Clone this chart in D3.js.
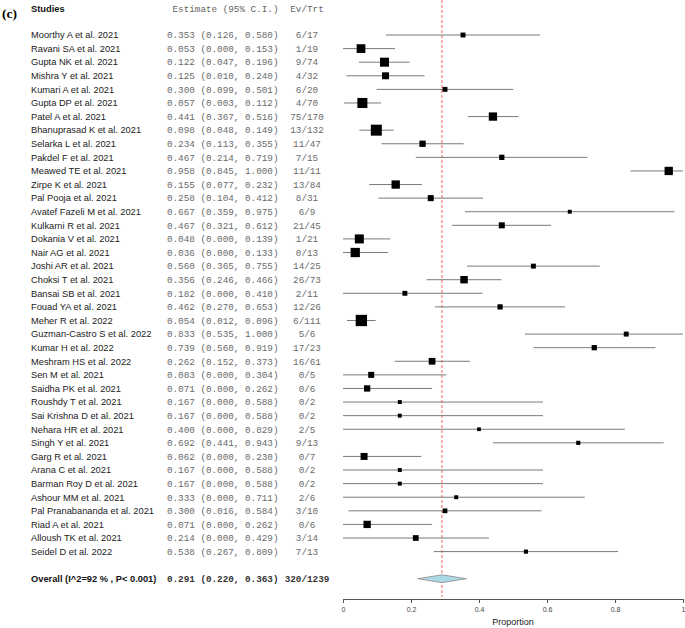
<!DOCTYPE html>
<html><head><meta charset="utf-8">
<script src="https://cdn.jsdelivr.net/npm/d3@7"></script>
<style>html,body{margin:0;padding:0;background:#fff;}</style>
</head><body>
<script>
const studies = ["Moorthy A et al. 2021","Ravani SA et al. 2021","Gupta NK et al. 2021","Mishra Y et al. 2021","Kumari A et al. 2021","Gupta DP et al. 2021","Patel A et al. 2021","Bhanuprasad K et al. 2021","Selarka L et al. 2021","Pakdel F et al. 2021","Meawed TE et al. 2021","Zirpe K et al. 2021","Pal Pooja et al. 2021","Avatef Fazeli M et al. 2021","Kulkarni R et al. 2021","Dokania V et al. 2021","Nair AG et al. 2021","Joshi AR et al. 2021","Choksi T et al. 2021","Bansai SB et al. 2021","Fouad YA et al. 2021","Meher R et al. 2022","Guzman-Castro S et al. 2022","Kumar H et al. 2022","Meshram HS et al. 2022","Sen M et al. 2021","Saidha PK et al. 2021","Roushdy T et al. 2021","Sai Krishna D et al. 2021","Nehara HR et al. 2021","Singh Y et al. 2021","Garg R et al. 2021","Arana C et al. 2021","Barman Roy D et al. 2021","Ashour MM et al. 2021","Pal Pranabananda et al. 2021","Riad A et al. 2021","Alloush TK et al. 2021","Seidel D et al. 2022"];
const estimate = [0.353,0.053,0.122,0.125,0.300,0.057,0.441,0.098,0.234,0.467,0.958,0.155,0.258,0.667,0.467,0.048,0.036,0.560,0.356,0.182,0.462,0.054,0.833,0.739,0.262,0.083,0.071,0.167,0.167,0.400,0.692,0.062,0.167,0.167,0.333,0.300,0.071,0.214,0.538];
const lower = [0.126,0.000,0.047,0.010,0.099,0.003,0.367,0.048,0.113,0.214,0.845,0.077,0.104,0.359,0.321,0.000,0.000,0.365,0.246,0.000,0.270,0.012,0.535,0.560,0.152,0.000,0.000,0.000,0.000,0.000,0.441,0.000,0.000,0.000,0.000,0.016,0.000,0.000,0.267];
const upper = [0.580,0.153,0.196,0.240,0.501,0.112,0.516,0.149,0.355,0.719,1.000,0.232,0.412,0.975,0.612,0.139,0.133,0.755,0.466,0.410,0.653,0.096,1.000,0.919,0.373,0.304,0.262,0.588,0.588,0.829,0.943,0.230,0.588,0.588,0.711,0.584,0.262,0.429,0.809];
const events = [6,1,9,4,6,4,75,13,11,7,11,13,8,6,21,1,0,14,26,2,12,6,5,17,16,0,0,0,0,2,9,0,0,0,2,3,0,3,7];
const totals = [17,19,74,32,20,70,170,132,47,15,11,84,31,9,45,21,13,25,73,11,26,111,6,23,61,5,6,2,2,5,13,7,2,2,6,10,6,14,13];
const weights = [1.4,4.4,4.7,2.8,1.4,5.8,4.0,7.0,2.3,1.6,4.0,4.0,2.1,0.9,2.1,4.7,5.0,1.4,3.2,1.4,1.6,7.4,1.4,1.6,2.6,2.1,2.3,0.9,0.9,0.8,1.0,2.8,0.9,0.9,0.9,1.3,3.1,1.9,1.0];
const overall = {label:"Overall (I^2=92 % , P< 0.001)", est:0.291, lo:0.220, hi:0.363, ev:320, n:1239};
const xTicks = [0,0.2,0.4,0.6,0.8,1];
const headers = ["Studies","Estimate (95% C.I.)","Ev/Trt"];
const panelLabel = "(c)";
const xTitle = "Proportion";

const W = 685, H = 628;
const svg = d3.select("body").append("svg").attr("width",W).attr("height",H);
const x = d3.scaleLinear().domain([0,1]).range([343,683]);
const y = d3.scalePoint().domain(d3.range(studies.length)).range([35,551.6]);
const yOverall = 578.7;
const size = d3.scaleSqrt().domain([0,d3.max(weights)]).range([0,11.3]);
const f3 = d3.format(".3f");
const sans = "'Liberation Sans', Arial, sans-serif";
const mono = "'Liberation Mono', 'Courier New', monospace";
const fs = 9.3;

// panel label
svg.append("text").attr("x",2).attr("y",18).attr("font-family","'Liberation Serif', 'Times New Roman', serif")
  .attr("font-weight","bold").attr("font-size",13.5).attr("fill","#000").text(panelLabel);
// headers
svg.append("text").attr("x",31).attr("y",11.5).attr("font-family",sans).attr("font-weight","bold").attr("font-size",fs).attr("fill","#111").text(headers[0]);
svg.append("text").attr("x",278.5).attr("y",11.5).attr("text-anchor","end").attr("font-family",mono).attr("font-size",fs).attr("fill","#666").text(headers[1]);
svg.append("text").attr("x",307).attr("y",11.5).attr("text-anchor","middle").attr("font-family",mono).attr("font-size",fs).attr("fill","#666").text(headers[2]);

// reference line
svg.append("line").attr("x1",x(overall.est)).attr("x2",x(overall.est)).attr("y1",0).attr("y2",597)
  .attr("stroke","#f05050").attr("stroke-width",0.9).attr("stroke-dasharray","3,2");

const rows = svg.append("g").selectAll("g").data(studies).join("g");
rows.append("text").attr("x",31).attr("y",(d,i)=>y(i)+3.3).attr("font-family",sans).attr("font-size",fs).attr("fill","#222").text(d=>d);
rows.append("text").attr("x",278.5).attr("y",(d,i)=>y(i)+3.3).attr("text-anchor","end").attr("font-family",mono).attr("font-size",fs).attr("fill","#6a6a6a")
  .text((d,i)=>`${f3(estimate[i])} (${f3(lower[i])}, ${f3(upper[i])})`);
rows.append("text").attr("x",307).attr("y",(d,i)=>y(i)+3.3).attr("text-anchor","middle").attr("font-family",mono).attr("font-size",fs).attr("fill","#6a6a6a")
  .text((d,i)=>`${events[i]}/${totals[i]}`);
rows.append("line").attr("x1",(d,i)=>x(lower[i])).attr("x2",(d,i)=>x(upper[i])).attr("y1",(d,i)=>y(i)).attr("y2",(d,i)=>y(i))
  .attr("stroke","#7a7a7a").attr("stroke-width",1);
rows.append("rect").attr("x",(d,i)=>x(estimate[i])-size(weights[i])/2).attr("y",(d,i)=>y(i)-size(weights[i])/2)
  .attr("width",(d,i)=>size(weights[i])).attr("height",(d,i)=>size(weights[i])).attr("fill","#000");

// overall row
svg.append("text").attr("x",31).attr("y",yOverall+3.3).attr("font-family",sans).attr("font-weight","bold").attr("font-size",fs).attr("fill","#111").text(overall.label);
svg.append("text").attr("x",278.5).attr("y",yOverall+3.3).attr("text-anchor","end").attr("font-family",mono).attr("font-weight","bold").attr("font-size",fs).attr("fill","#333")
  .text(`${f3(overall.est)} (${f3(overall.lo)}, ${f3(overall.hi)})`);
svg.append("text").attr("x",307).attr("y",yOverall+3.3).attr("text-anchor","middle").attr("font-family",mono).attr("font-weight","bold").attr("font-size",fs).attr("fill","#333")
  .text(`${overall.ev}/${overall.n}`);
svg.append("polygon").attr("points",[[x(overall.lo),yOverall],[x(overall.est),yOverall-3.9],[x(overall.hi),yOverall],[x(overall.est),yOverall+3.9]].map(p=>p.join(",")).join(" "))
  .attr("fill","#add8e6").attr("stroke","#888").attr("stroke-width",0.8);

// axis
const ax = svg.append("g").attr("transform","translate(0,599)")
  .call(d3.axisBottom(x).tickValues(xTicks).tickSize(4).tickSizeOuter(0).tickFormat(d=>d3.format("~g")(d)));
ax.select(".domain").attr("stroke","#555");
ax.selectAll(".tick line").attr("stroke","#555");
ax.selectAll(".tick text").attr("font-family",sans).attr("font-size",7).attr("fill","#444").attr("dy","0.9em");
svg.append("text").attr("x",513).attr("y",625).attr("text-anchor","middle").attr("font-family",sans).attr("font-size",9).attr("fill","#222").text(xTitle);
</script>
</body></html>
